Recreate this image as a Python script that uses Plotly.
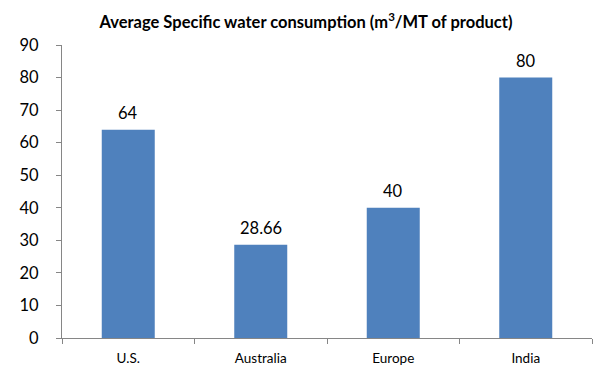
import plotly.graph_objects as go

categories = ["U.S.", "Australia", "Europe", "India"]
values = [64, 28.66, 40, 80]
labels = ["64", "28.66", "40", "80"]
y_ticks = list(range(0, 100, 10))

fig = go.Figure(go.Bar(
    x=categories, y=values,
    marker=dict(color="#4F81BD", line=dict(width=0)),
    cliponaxis=False, width=0.4,
))

for c, v, t in zip(categories, values, labels):
    fig.add_annotation(x=c, y=v, text=t, showarrow=False, yanchor="bottom",
                       yshift=5, font=dict(size=16.5, color="#000000", family="Lato"))

H = 381
fig.update_layout(
    width=612, height=H,
    margin=dict(l=44, r=28, t=37, b=51),
    paper_bgcolor="white", plot_bgcolor="white",
    font=dict(family="Lato", color="#000000"),
    title=dict(text="<b>Average Specific water consumption (m<sup>3</sup>/MT of product)</b>",
               x=(306 - 8) / 612, xanchor="center", y=1 - 14 / H, yanchor="middle",
               font=dict(size=16.5, family="Lato")),
    showlegend=False,
    bargap=0.6,
)
fig.update_yaxes(range=[0, 90], tickvals=y_ticks, showgrid=False, showline=True,
                 linecolor="#868686", linewidth=1, ticks="outside", ticklen=5,
                 tickcolor="#868686", tickfont=dict(size=16.5), zeroline=False,
                 ticklabelstandoff=14)
fig.update_xaxes(showgrid=False, showline=True, linecolor="#868686", linewidth=1,
                 ticks="outside", ticklen=5, tickcolor="#868686", tickson="boundaries",
                 tickfont=dict(size=13.5), ticklabelstandoff=8)

fig.write_html("out.html")
